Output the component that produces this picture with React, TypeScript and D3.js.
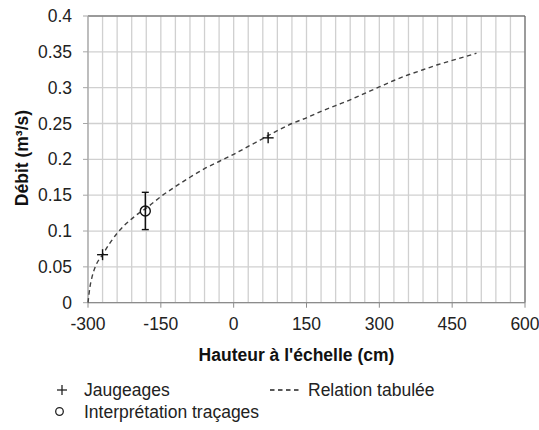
import React from "react";
import * as d3 from "d3";

const relationH = [-300, -296, -292, -285, -270, -255, -240, -225, -210, -195, -180, -165, -150, -120, -90, -60, -30, 0, 30, 60, 90, 120, 150, 180, 210, 240, 270, 300, 330, 360, 390, 420, 450, 480, 500];
const relationQ = [0, 0.022, 0.035, 0.05, 0.067, 0.083, 0.097, 0.108, 0.117, 0.125, 0.132, 0.14, 0.148, 0.162, 0.175, 0.187, 0.197, 0.207, 0.218, 0.229, 0.24, 0.25, 0.258, 0.267, 0.275, 0.283, 0.292, 0.301, 0.31, 0.318, 0.325, 0.332, 0.338, 0.344, 0.348];

const jaugeH = [-270, 71];
const jaugeQ = [0.067, 0.23];

const tracageH = [-182];
const tracageQ = [0.128];
const tracageLow = [0.102];
const tracageHigh = [0.154];

const xTicks = [-300, -150, 0, 150, 300, 450, 600];
const yTicks = [0, 0.05, 0.1, 0.15, 0.2, 0.25, 0.3, 0.35, 0.4];
const xGrid = d3.range(-300, 601, 30);

const W = 539;
const H = 430;
const L = 88, R = 525, T = 16, B = 302.7;
const FONT = "'Liberation Sans', Arial, sans-serif";
const FS = 17.5;

export default function App() {
  const x = d3.scaleLinear().domain([-300, 600]).range([L, R]);
  const y = d3.scaleLinear().domain([0, 0.4]).range([B, T]);
  const line = d3
    .line<number>()
    .x((_, i) => x(relationH[i]))
    .y((d) => y(d))
    .curve(d3.curveMonotoneX);

  return (
    <svg width={W} height={H} style={{ position: "absolute", left: 0, top: 0 }} fontFamily={FONT}>
      <rect width={W} height={H} fill="#fff" />
      {/* vertical grid */}
      {xGrid.map((v) => (
        <line key={"gx" + v} x1={x(v)} x2={x(v)} y1={T} y2={B} stroke="#d0d0d0" strokeWidth={1.3} />
      ))}
      {yTicks.map((v) => (
        <line key={"gy" + v} x1={L} x2={R} y1={y(v)} y2={y(v)} stroke="#d0d0d0" strokeWidth={1.3} />
      ))}
      {/* borders */}
      <line x1={L} x2={R} y1={T} y2={T} stroke="#595959" strokeWidth={1} />
      <line x1={R} x2={R} y1={T} y2={B} stroke="#595959" strokeWidth={1} />
      <line x1={L} x2={L} y1={T} y2={B} stroke="#a6a6a6" strokeWidth={1.2} />
      <line x1={L} x2={R} y1={B} y2={B} stroke="#8c8c8c" strokeWidth={1.2} />
      {/* ticks */}
      {xTicks.map((v) => (
        <g key={"xt" + v}>
          <line x1={x(v)} x2={x(v)} y1={B} y2={B + 5} stroke="#8c8c8c" strokeWidth={1} />
          <text x={x(v)} y={330} textAnchor="middle" fontSize={FS} fill="#222">
            {v}
          </text>
        </g>
      ))}
      {yTicks.map((v) => (
        <g key={"yt" + v}>
          <line x1={L - 5} x2={L} y1={y(v)} y2={y(v)} stroke="#a6a6a6" strokeWidth={1} />
          <text x={72} y={y(v) + 6} textAnchor="end" fontSize={FS} fill="#222">
            {String(v)}
          </text>
        </g>
      ))}
      {/* relation */}
      <path d={line(relationQ) || ""} fill="none" stroke="#404040" strokeWidth={1.4} strokeDasharray="4.5,3.5" />
      {/* jaugeages */}
      {jaugeH.map((h, i) => (
        <g key={"j" + i} stroke="#111" strokeWidth={1.4}>
          <line x1={x(h) - 5.5} x2={x(h) + 5.5} y1={y(jaugeQ[i])} y2={y(jaugeQ[i])} />
          <line x1={x(h)} x2={x(h)} y1={y(jaugeQ[i]) - 5.5} y2={y(jaugeQ[i]) + 5.5} />
        </g>
      ))}
      {/* tracages */}
      {tracageH.map((h, i) => (
        <g key={"t" + i} stroke="#111" strokeWidth={1.4} fill="none">
          <line x1={x(h)} x2={x(h)} y1={y(tracageLow[i])} y2={y(tracageHigh[i])} />
          <line x1={x(h) - 3.5} x2={x(h) + 3.5} y1={y(tracageLow[i])} y2={y(tracageLow[i])} />
          <line x1={x(h) - 3.5} x2={x(h) + 3.5} y1={y(tracageHigh[i])} y2={y(tracageHigh[i])} />
          <circle cx={x(h)} cy={y(tracageQ[i])} r={5} />
        </g>
      ))}
      {/* axis titles */}
      <text x={296.5} y={361} textAnchor="middle" fontSize={FS} fontWeight="bold" fill="#111">
        Hauteur à l'échelle (cm)
      </text>
      <text transform={`translate(28,158) rotate(-90)`} textAnchor="middle" fontSize={FS} fontWeight="bold" fill="#111">
        Débit (m³/s)
      </text>
      {/* legend */}
      <g stroke="#222" strokeWidth={1.3}>
        <line x1={57} x2={67} y1={390} y2={390} />
        <line x1={62} x2={62} y1={385} y2={395} />
      </g>
      <text x={84} y={396} fontSize={FS} fill="#222">Jaugeages</text>
      <line x1={270} x2={302} y1={390} y2={390} stroke="#222" strokeWidth={1.3} strokeDasharray="4.5,3.5" />
      <text x={308} y={396} fontSize={FS} fill="#222">Relation tabulée</text>
      <circle cx={59.5} cy={411.5} r={3.8} fill="none" stroke="#222" strokeWidth={1.3} />
      <text x={84} y={418} fontSize={FS} fill="#222">Interprétation traçages</text>
    </svg>
  );
}
